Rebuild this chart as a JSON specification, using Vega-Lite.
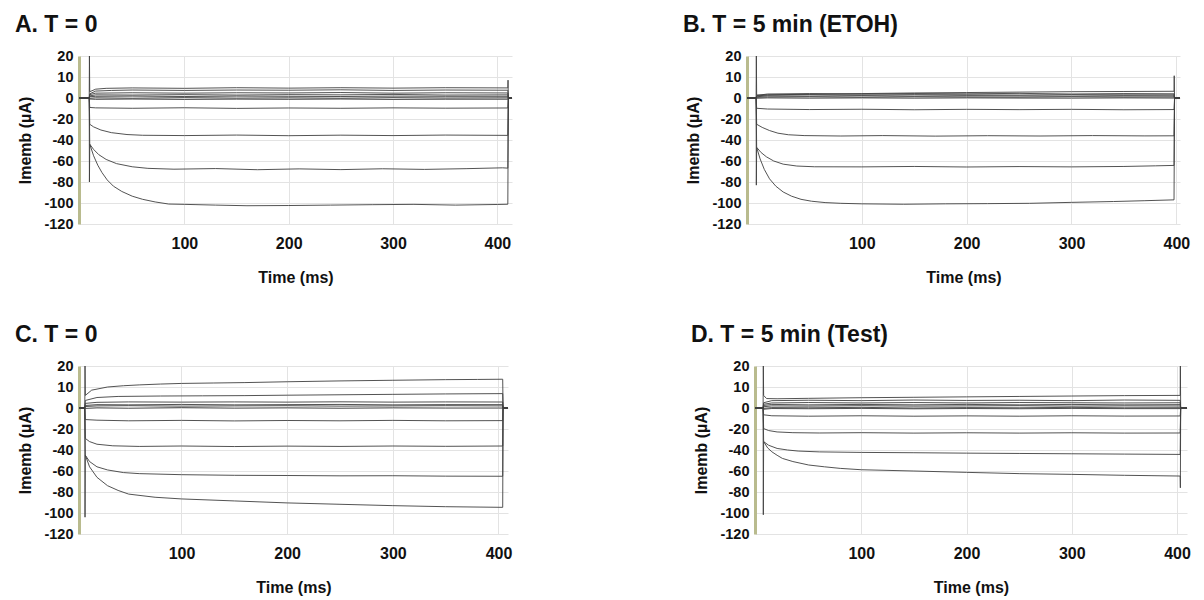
{
"$schema": "https://vega.github.io/schema/vega-lite/v6.json",
"background": "white",
"padding": {"left": 14, "top": 14, "right": 5, "bottom": 5},
"config": {
 "font": "Liberation Sans",
 "view": {"stroke": null},
 "axis": {"grid": true, "gridColor": "#e3e3e3", "gridWidth": 1, "ticks": false, "labelFont": "Liberation Sans", "titleFont": "Liberation Sans", "labelFontWeight": "bold", "titleFontWeight": "bold", "labelColor": "#111111", "titleColor": "#111111"},
 "axisX": {"domain": false, "labelFontSize": 16, "labelPadding": 11, "titleFontSize": 16, "titlePadding": 18, "labelFlush": false},
 "axisY": {"domainColor": "#b9bb8e", "domainWidth": 3, "labelFontSize": 14.5, "labelPadding": 6, "titleFontSize": 16, "titlePadding": 10},
 "title": {"fontSize": 23, "fontWeight": "bold", "anchor": "start", "frame": "bounds", "offset": 11, "color": "#111111", "dx": -3}
},
"datasets": {
"A": [
{"s":1,"t":-1,"v":0},{"s":1,"t":8.8,"v":0},{"s":1,"t":9,"v":20},{"s":1,"t":9.3,"v":3},{"s":1,"t":15,"v":4.2},{"s":1,"t":25,"v":4.6},{"s":1,"t":50,"v":4.8},{"s":1,"t":100,"v":4.6},{"s":1,"t":150,"v":4.9},{"s":1,"t":200,"v":4.7},{"s":1,"t":250,"v":4.9},{"s":1,"t":300,"v":4.7},{"s":1,"t":350,"v":4.9},{"s":1,"t":410,"v":4.8},{"s":1,"t":410.2,"v":8.5},{"s":1,"t":410.5,"v":0},{"s":1,"t":414,"v":0},
{"s":2,"t":-1,"v":0},{"s":2,"t":8.8,"v":0},{"s":2,"t":9.3,"v":2},{"s":2,"t":15,"v":3.3},{"s":2,"t":30,"v":3.6},{"s":2,"t":50,"v":3.8},{"s":2,"t":100,"v":3.6},{"s":2,"t":150,"v":3.8},{"s":2,"t":200,"v":3.7},{"s":2,"t":250,"v":3.9},{"s":2,"t":300,"v":3.6},{"s":2,"t":350,"v":3.8},{"s":2,"t":410,"v":3.7},{"s":2,"t":410.5,"v":0},{"s":2,"t":414,"v":0},
{"s":3,"t":-1,"v":0},{"s":3,"t":8.8,"v":0},{"s":3,"t":9.3,"v":1.6},{"s":3,"t":15,"v":2.3},{"s":3,"t":50,"v":2.5},{"s":3,"t":100,"v":2.3},{"s":3,"t":150,"v":2.5},{"s":3,"t":200,"v":2.4},{"s":3,"t":250,"v":2.6},{"s":3,"t":300,"v":2.3},{"s":3,"t":350,"v":2.5},{"s":3,"t":410,"v":2.4},{"s":3,"t":410.5,"v":0},{"s":3,"t":414,"v":0},
{"s":4,"t":-1,"v":0},{"s":4,"t":8.8,"v":0},{"s":4,"t":9.3,"v":1},{"s":4,"t":15,"v":1.5},{"s":4,"t":50,"v":1.4},{"s":4,"t":100,"v":1.6},{"s":4,"t":150,"v":1.4},{"s":4,"t":200,"v":1.6},{"s":4,"t":250,"v":1.5},{"s":4,"t":300,"v":1.7},{"s":4,"t":350,"v":1.4},{"s":4,"t":410,"v":1.5},{"s":4,"t":410.5,"v":0},{"s":4,"t":414,"v":0},
{"s":5,"t":-1,"v":0},{"s":5,"t":8.8,"v":0},{"s":5,"t":9.3,"v":0.6},{"s":5,"t":15,"v":0.8},{"s":5,"t":50,"v":0.9},{"s":5,"t":100,"v":0.7},{"s":5,"t":150,"v":0.9},{"s":5,"t":200,"v":0.8},{"s":5,"t":250,"v":0.7},{"s":5,"t":300,"v":0.9},{"s":5,"t":350,"v":0.8},{"s":5,"t":410,"v":0.8},{"s":5,"t":410.5,"v":0},{"s":5,"t":414,"v":0},
{"s":6,"t":-1,"v":0},{"s":6,"t":8.8,"v":0},{"s":6,"t":9.3,"v":-0.3},{"s":6,"t":15,"v":0.1},{"s":6,"t":50,"v":-0.2},{"s":6,"t":100,"v":0.2},{"s":6,"t":150,"v":-0.1},{"s":6,"t":200,"v":0.1},{"s":6,"t":250,"v":-0.2},{"s":6,"t":300,"v":0.2},{"s":6,"t":350,"v":0},{"s":6,"t":410,"v":0.1},{"s":6,"t":410.5,"v":0},{"s":6,"t":414,"v":0},
{"s":7,"t":-1,"v":0},{"s":7,"t":8.8,"v":0},{"s":7,"t":9.3,"v":-1},{"s":7,"t":15,"v":-1.3},{"s":7,"t":50,"v":-1},{"s":7,"t":100,"v":-1.4},{"s":7,"t":150,"v":-1.1},{"s":7,"t":200,"v":-1.3},{"s":7,"t":250,"v":-1},{"s":7,"t":300,"v":-1.4},{"s":7,"t":350,"v":-1.2},{"s":7,"t":410,"v":-1.2},{"s":7,"t":410.5,"v":0},{"s":7,"t":414,"v":0},
{"s":8,"t":-1,"v":0},{"s":8,"t":8.8,"v":0},{"s":8,"t":9.3,"v":-9},{"s":8,"t":15,"v":-9.4},{"s":8,"t":50,"v":-9.8},{"s":8,"t":100,"v":-9.3},{"s":8,"t":150,"v":-9.9},{"s":8,"t":200,"v":-9.5},{"s":8,"t":250,"v":-9.8},{"s":8,"t":300,"v":-9.4},{"s":8,"t":350,"v":-9.7},{"s":8,"t":410,"v":-9.5},{"s":8,"t":410.5,"v":0},{"s":8,"t":414,"v":0},
{"s":9,"t":-1,"v":0},{"s":9,"t":8.8,"v":0},{"s":9,"t":9.3,"v":-25},{"s":9,"t":13,"v":-27.5},{"s":9,"t":20,"v":-30.5},{"s":9,"t":30,"v":-33},{"s":9,"t":45,"v":-34.8},{"s":9,"t":60,"v":-35.5},{"s":9,"t":100,"v":-35.8},{"s":9,"t":150,"v":-35.3},{"s":9,"t":200,"v":-35.9},{"s":9,"t":250,"v":-35.4},{"s":9,"t":300,"v":-35.8},{"s":9,"t":350,"v":-35.3},{"s":9,"t":410,"v":-35.6},{"s":9,"t":410.5,"v":0},{"s":9,"t":414,"v":0},
{"s":10,"t":-1,"v":0},{"s":10,"t":8.8,"v":0},{"s":10,"t":9.3,"v":-44},{"s":10,"t":13,"v":-49},{"s":10,"t":18,"v":-54},{"s":10,"t":25,"v":-58.5},{"s":10,"t":35,"v":-62.5},{"s":10,"t":50,"v":-65.5},{"s":10,"t":65,"v":-67},{"s":10,"t":90,"v":-67.8},{"s":10,"t":130,"v":-67.2},{"s":10,"t":170,"v":-68.3},{"s":10,"t":210,"v":-67.5},{"s":10,"t":250,"v":-68.2},{"s":10,"t":290,"v":-67.4},{"s":10,"t":330,"v":-68},{"s":10,"t":370,"v":-67.3},{"s":10,"t":405,"v":-66.5},{"s":10,"t":410,"v":-66.8},{"s":10,"t":410.5,"v":0},{"s":10,"t":414,"v":0},
{"s":11,"t":-1,"v":0},{"s":11,"t":8.8,"v":0},{"s":11,"t":9,"v":-80},{"s":11,"t":9.3,"v":-44},{"s":11,"t":13,"v":-55},{"s":11,"t":17,"v":-64},{"s":11,"t":21,"v":-71},{"s":11,"t":26,"v":-78},{"s":11,"t":32,"v":-84},{"s":11,"t":40,"v":-89},{"s":11,"t":50,"v":-93.5},{"s":11,"t":60,"v":-96.5},{"s":11,"t":72,"v":-99},{"s":11,"t":85,"v":-101},{"s":11,"t":100,"v":-101.3},{"s":11,"t":130,"v":-102},{"s":11,"t":160,"v":-102.6},{"s":11,"t":200,"v":-102.4},{"s":11,"t":240,"v":-102},{"s":11,"t":280,"v":-101.6},{"s":11,"t":320,"v":-101.3},{"s":11,"t":360,"v":-102},{"s":11,"t":400,"v":-101.4},{"s":11,"t":410,"v":-101.2},{"s":11,"t":410.5,"v":0},{"s":11,"t":414,"v":0}
],
"B": [
{"s":1,"t":-9.5,"v":0},{"s":1,"t":-0.8,"v":0},{"s":1,"t":-0.6,"v":20},{"s":1,"t":-0.3,"v":1.4},{"s":1,"t":10,"v":1.5},{"s":1,"t":50,"v":1.8},{"s":1,"t":100,"v":2.1},{"s":1,"t":150,"v":2.4},{"s":1,"t":200,"v":2.6},{"s":1,"t":250,"v":2.8},{"s":1,"t":300,"v":3},{"s":1,"t":350,"v":3.1},{"s":1,"t":397.8,"v":3.2},{"s":1,"t":398,"v":10.6},{"s":1,"t":398.3,"v":0},{"s":1,"t":403.5,"v":0},
{"s":2,"t":-9.5,"v":0},{"s":2,"t":-0.8,"v":0},{"s":2,"t":-0.3,"v":1.2},{"s":2,"t":10,"v":1.9},{"s":2,"t":50,"v":2.1},{"s":2,"t":100,"v":1.9},{"s":2,"t":150,"v":2.1},{"s":2,"t":200,"v":2},{"s":2,"t":250,"v":2.2},{"s":2,"t":300,"v":1.9},{"s":2,"t":350,"v":2.1},{"s":2,"t":397.8,"v":2},{"s":2,"t":398.3,"v":0},{"s":2,"t":403.5,"v":0},
{"s":3,"t":-9.5,"v":0},{"s":3,"t":-0.8,"v":0},{"s":3,"t":-0.3,"v":1},{"s":3,"t":10,"v":1.4},{"s":3,"t":50,"v":1.6},{"s":3,"t":100,"v":1.4},{"s":3,"t":150,"v":1.6},{"s":3,"t":200,"v":1.5},{"s":3,"t":250,"v":1.4},{"s":3,"t":300,"v":1.6},{"s":3,"t":350,"v":1.5},{"s":3,"t":397.8,"v":1.5},{"s":3,"t":398.3,"v":0},{"s":3,"t":403.5,"v":0},
{"s":4,"t":-9.5,"v":0},{"s":4,"t":-0.8,"v":0},{"s":4,"t":-0.3,"v":0.6},{"s":4,"t":10,"v":1},{"s":4,"t":50,"v":0.9},{"s":4,"t":100,"v":1.1},{"s":4,"t":150,"v":0.9},{"s":4,"t":200,"v":1.1},{"s":4,"t":250,"v":1},{"s":4,"t":300,"v":0.9},{"s":4,"t":350,"v":1.1},{"s":4,"t":397.8,"v":1},{"s":4,"t":398.3,"v":0},{"s":4,"t":403.5,"v":0},
{"s":5,"t":-9.5,"v":0},{"s":5,"t":-0.8,"v":0},{"s":5,"t":-0.3,"v":0.3},{"s":5,"t":10,"v":0.5},{"s":5,"t":50,"v":0.6},{"s":5,"t":100,"v":0.4},{"s":5,"t":150,"v":0.6},{"s":5,"t":200,"v":0.5},{"s":5,"t":250,"v":0.4},{"s":5,"t":300,"v":0.6},{"s":5,"t":350,"v":0.5},{"s":5,"t":397.8,"v":0.5},{"s":5,"t":398.3,"v":0},{"s":5,"t":403.5,"v":0},
{"s":6,"t":-9.5,"v":0},{"s":6,"t":-0.8,"v":0},{"s":6,"t":-0.3,"v":-0.2},{"s":6,"t":10,"v":0.1},{"s":6,"t":50,"v":-0.1},{"s":6,"t":100,"v":0.1},{"s":6,"t":150,"v":-0.1},{"s":6,"t":200,"v":0.1},{"s":6,"t":250,"v":0},{"s":6,"t":300,"v":-0.1},{"s":6,"t":350,"v":0.1},{"s":6,"t":397.8,"v":0},{"s":6,"t":398.3,"v":0},{"s":6,"t":403.5,"v":0},
{"s":7,"t":-9.5,"v":0},{"s":7,"t":-0.8,"v":0},{"s":7,"t":-0.3,"v":-9.8},{"s":7,"t":10,"v":-10.5},{"s":7,"t":50,"v":-11},{"s":7,"t":100,"v":-10.7},{"s":7,"t":150,"v":-11.2},{"s":7,"t":200,"v":-10.8},{"s":7,"t":250,"v":-11.1},{"s":7,"t":300,"v":-10.8},{"s":7,"t":350,"v":-11.2},{"s":7,"t":397.8,"v":-11},{"s":7,"t":398.3,"v":0},{"s":7,"t":403.5,"v":0},
{"s":8,"t":-9.5,"v":0},{"s":8,"t":-0.8,"v":0},{"s":8,"t":-0.3,"v":-25},{"s":8,"t":5,"v":-28},{"s":8,"t":12,"v":-31},{"s":8,"t":20,"v":-33.5},{"s":8,"t":30,"v":-35},{"s":8,"t":45,"v":-35.8},{"s":8,"t":80,"v":-36.2},{"s":8,"t":120,"v":-35.8},{"s":8,"t":170,"v":-36.3},{"s":8,"t":220,"v":-35.9},{"s":8,"t":270,"v":-36.2},{"s":8,"t":320,"v":-35.8},{"s":8,"t":370,"v":-36.1},{"s":8,"t":397.8,"v":-36},{"s":8,"t":398.3,"v":0},{"s":8,"t":403.5,"v":0},
{"s":9,"t":-9.5,"v":0},{"s":9,"t":-0.8,"v":0},{"s":9,"t":-0.3,"v":-47},{"s":9,"t":4,"v":-52},{"s":9,"t":9,"v":-56},{"s":9,"t":16,"v":-60},{"s":9,"t":25,"v":-63},{"s":9,"t":38,"v":-64.8},{"s":9,"t":55,"v":-65.5},{"s":9,"t":100,"v":-65.6},{"s":9,"t":150,"v":-65.2},{"s":9,"t":200,"v":-65.7},{"s":9,"t":250,"v":-65.3},{"s":9,"t":300,"v":-65.6},{"s":9,"t":350,"v":-65.2},{"s":9,"t":380,"v":-64.6},{"s":9,"t":397.8,"v":-64.2},{"s":9,"t":398.3,"v":0},{"s":9,"t":403.5,"v":0},
{"s":10,"t":-9.5,"v":0},{"s":10,"t":-0.8,"v":0},{"s":10,"t":-0.6,"v":-83},{"s":10,"t":-0.3,"v":-47},{"s":10,"t":3,"v":-58},{"s":10,"t":7,"v":-68},{"s":10,"t":12,"v":-77},{"s":10,"t":18,"v":-84},{"s":10,"t":25,"v":-89.5},{"s":10,"t":33,"v":-93.5},{"s":10,"t":42,"v":-96.5},{"s":10,"t":52,"v":-98.3},{"s":10,"t":65,"v":-99.6},{"s":10,"t":80,"v":-100.3},{"s":10,"t":100,"v":-100.8},{"s":10,"t":140,"v":-101.2},{"s":10,"t":180,"v":-100.8},{"s":10,"t":220,"v":-100.6},{"s":10,"t":260,"v":-100.3},{"s":10,"t":300,"v":-99.4},{"s":10,"t":340,"v":-98.6},{"s":10,"t":370,"v":-97.8},{"s":10,"t":397.8,"v":-97},{"s":10,"t":398.3,"v":0},{"s":10,"t":403.5,"v":0}
],
"C": [
{"s":1,"t":3,"v":0},{"s":1,"t":8.5,"v":0},{"s":1,"t":8.7,"v":20},{"s":1,"t":9,"v":6},{"s":1,"t":15,"v":8.5},{"s":1,"t":30,"v":10},{"s":1,"t":45,"v":10.6},{"s":1,"t":60,"v":11},{"s":1,"t":80,"v":11.4},{"s":1,"t":100,"v":11.7},{"s":1,"t":130,"v":11.9},{"s":1,"t":160,"v":12.1},{"s":1,"t":200,"v":12.5},{"s":1,"t":250,"v":12.9},{"s":1,"t":300,"v":13.2},{"s":1,"t":350,"v":13.5},{"s":1,"t":380,"v":13.6},{"s":1,"t":404,"v":13.7},{"s":1,"t":404.3,"v":0},{"s":1,"t":409,"v":0},
{"s":2,"t":3,"v":0},{"s":2,"t":8.5,"v":0},{"s":2,"t":9,"v":3.6},{"s":2,"t":20,"v":5},{"s":2,"t":40,"v":5.5},{"s":2,"t":80,"v":5.7},{"s":2,"t":120,"v":5.8},{"s":2,"t":160,"v":5.9},{"s":2,"t":200,"v":6.1},{"s":2,"t":250,"v":6.3},{"s":2,"t":300,"v":6.5},{"s":2,"t":350,"v":6.7},{"s":2,"t":404,"v":6.85},{"s":2,"t":404.3,"v":0},{"s":2,"t":409,"v":0},
{"s":3,"t":3,"v":0},{"s":3,"t":8.5,"v":0},{"s":3,"t":9,"v":2.2},{"s":3,"t":20,"v":2.7},{"s":3,"t":50,"v":2.9},{"s":3,"t":100,"v":2.8},{"s":3,"t":150,"v":2.9},{"s":3,"t":200,"v":2.8},{"s":3,"t":250,"v":2.95},{"s":3,"t":300,"v":2.8},{"s":3,"t":350,"v":2.9},{"s":3,"t":404,"v":2.85},{"s":3,"t":404.3,"v":0},{"s":3,"t":409,"v":0},
{"s":4,"t":3,"v":0},{"s":4,"t":8.5,"v":0},{"s":4,"t":9,"v":1.2},{"s":4,"t":20,"v":1.6},{"s":4,"t":50,"v":1.5},{"s":4,"t":100,"v":1.7},{"s":4,"t":150,"v":1.5},{"s":4,"t":200,"v":1.6},{"s":4,"t":250,"v":1.7},{"s":4,"t":300,"v":1.5},{"s":4,"t":350,"v":1.6},{"s":4,"t":404,"v":1.6},{"s":4,"t":404.3,"v":0},{"s":4,"t":409,"v":0},
{"s":5,"t":3,"v":0},{"s":5,"t":8.5,"v":0},{"s":5,"t":9,"v":0.7},{"s":5,"t":20,"v":1},{"s":5,"t":50,"v":1.1},{"s":5,"t":100,"v":0.9},{"s":5,"t":150,"v":1},{"s":5,"t":200,"v":1.1},{"s":5,"t":250,"v":0.9},{"s":5,"t":300,"v":1},{"s":5,"t":350,"v":1.1},{"s":5,"t":404,"v":1},{"s":5,"t":404.3,"v":0},{"s":5,"t":409,"v":0},
{"s":6,"t":3,"v":0},{"s":6,"t":8.5,"v":0},{"s":6,"t":9,"v":-0.4},{"s":6,"t":20,"v":0.1},{"s":6,"t":50,"v":-0.2},{"s":6,"t":100,"v":0.2},{"s":6,"t":150,"v":-0.1},{"s":6,"t":200,"v":0.1},{"s":6,"t":250,"v":-0.2},{"s":6,"t":300,"v":0.1},{"s":6,"t":350,"v":0},{"s":6,"t":404,"v":0},{"s":6,"t":404.3,"v":0},{"s":6,"t":409,"v":0},
{"s":7,"t":3,"v":0},{"s":7,"t":8.5,"v":0},{"s":7,"t":9,"v":-11},{"s":7,"t":20,"v":-11.6},{"s":7,"t":50,"v":-12.2},{"s":7,"t":100,"v":-11.8},{"s":7,"t":150,"v":-12.3},{"s":7,"t":200,"v":-11.9},{"s":7,"t":250,"v":-12.2},{"s":7,"t":300,"v":-11.8},{"s":7,"t":350,"v":-12.2},{"s":7,"t":404,"v":-12},{"s":7,"t":404.3,"v":0},{"s":7,"t":409,"v":0},
{"s":8,"t":3,"v":0},{"s":8,"t":8.5,"v":0},{"s":8,"t":9,"v":-29},{"s":8,"t":13,"v":-32},{"s":8,"t":20,"v":-34.5},{"s":8,"t":35,"v":-36},{"s":8,"t":60,"v":-36.6},{"s":8,"t":100,"v":-36.2},{"s":8,"t":150,"v":-36.7},{"s":8,"t":200,"v":-36.3},{"s":8,"t":250,"v":-36.6},{"s":8,"t":300,"v":-36.2},{"s":8,"t":350,"v":-36.5},{"s":8,"t":404,"v":-36.2},{"s":8,"t":404.3,"v":0},{"s":8,"t":409,"v":0},
{"s":9,"t":3,"v":0},{"s":9,"t":8.5,"v":0},{"s":9,"t":9,"v":-45},{"s":9,"t":13,"v":-51},{"s":9,"t":20,"v":-56},{"s":9,"t":30,"v":-59},{"s":9,"t":45,"v":-61.5},{"s":9,"t":60,"v":-62.5},{"s":9,"t":100,"v":-63.5},{"s":9,"t":150,"v":-64.1},{"s":9,"t":200,"v":-64.3},{"s":9,"t":250,"v":-64.6},{"s":9,"t":300,"v":-64.5},{"s":9,"t":350,"v":-64.9},{"s":9,"t":404,"v":-65},{"s":9,"t":404.3,"v":0},{"s":9,"t":409,"v":0},
{"s":10,"t":3,"v":0},{"s":10,"t":8.5,"v":0},{"s":10,"t":8.7,"v":-104},{"s":10,"t":9,"v":-45},{"s":10,"t":13,"v":-56},{"s":10,"t":20,"v":-66},{"s":10,"t":30,"v":-74},{"s":10,"t":40,"v":-78.5},{"s":10,"t":50,"v":-82},{"s":10,"t":75,"v":-85},{"s":10,"t":100,"v":-86.6},{"s":10,"t":150,"v":-88.5},{"s":10,"t":200,"v":-90.4},{"s":10,"t":250,"v":-91.7},{"s":10,"t":300,"v":-93},{"s":10,"t":350,"v":-94},{"s":10,"t":404,"v":-94.6},{"s":10,"t":404.3,"v":0},{"s":10,"t":409,"v":0}
],
"D": [
{"s":1,"t":-1,"v":0},{"s":1,"t":6.7,"v":0},{"s":1,"t":6.9,"v":20},{"s":1,"t":7.2,"v":6},{"s":1,"t":10,"v":4.5},{"s":1,"t":20,"v":4.4},{"s":1,"t":50,"v":4.6},{"s":1,"t":100,"v":4.9},{"s":1,"t":150,"v":5.1},{"s":1,"t":200,"v":5.3},{"s":1,"t":250,"v":5.5},{"s":1,"t":300,"v":5.7},{"s":1,"t":350,"v":5.9},{"s":1,"t":403,"v":6},{"s":1,"t":403.2,"v":20},{"s":1,"t":403.5,"v":0},{"s":1,"t":409.5,"v":0},
{"s":2,"t":-1,"v":0},{"s":2,"t":6.7,"v":0},{"s":2,"t":7.2,"v":2.5},{"s":2,"t":15,"v":3.5},{"s":2,"t":50,"v":3.7},{"s":2,"t":100,"v":3.5},{"s":2,"t":150,"v":3.8},{"s":2,"t":200,"v":3.6},{"s":2,"t":250,"v":3.7},{"s":2,"t":300,"v":3.5},{"s":2,"t":350,"v":3.8},{"s":2,"t":403,"v":3.65},{"s":2,"t":403.5,"v":0},{"s":2,"t":409.5,"v":0},
{"s":3,"t":-1,"v":0},{"s":3,"t":6.7,"v":0},{"s":3,"t":7.2,"v":1.8},{"s":3,"t":15,"v":2.4},{"s":3,"t":50,"v":2.6},{"s":3,"t":100,"v":2.4},{"s":3,"t":150,"v":2.6},{"s":3,"t":200,"v":2.4},{"s":3,"t":250,"v":2.6},{"s":3,"t":300,"v":2.5},{"s":3,"t":350,"v":2.4},{"s":3,"t":403,"v":2.5},{"s":3,"t":403.5,"v":0},{"s":3,"t":409.5,"v":0},
{"s":4,"t":-1,"v":0},{"s":4,"t":6.7,"v":0},{"s":4,"t":7.2,"v":1.2},{"s":4,"t":15,"v":1.7},{"s":4,"t":50,"v":1.5},{"s":4,"t":100,"v":1.7},{"s":4,"t":150,"v":1.5},{"s":4,"t":200,"v":1.7},{"s":4,"t":250,"v":1.5},{"s":4,"t":300,"v":1.7},{"s":4,"t":350,"v":1.5},{"s":4,"t":403,"v":1.6},{"s":4,"t":403.5,"v":0},{"s":4,"t":409.5,"v":0},
{"s":5,"t":-1,"v":0},{"s":5,"t":6.7,"v":0},{"s":5,"t":7.2,"v":0.6},{"s":5,"t":15,"v":1},{"s":5,"t":50,"v":0.9},{"s":5,"t":100,"v":1.1},{"s":5,"t":150,"v":0.9},{"s":5,"t":200,"v":1},{"s":5,"t":250,"v":1.1},{"s":5,"t":300,"v":0.9},{"s":5,"t":350,"v":1},{"s":5,"t":403,"v":0.95},{"s":5,"t":403.5,"v":0},{"s":5,"t":409.5,"v":0},
{"s":6,"t":-1,"v":0},{"s":6,"t":6.7,"v":0},{"s":6,"t":7.2,"v":-0.3},{"s":6,"t":15,"v":0.2},{"s":6,"t":50,"v":0.1},{"s":6,"t":100,"v":0.3},{"s":6,"t":150,"v":0},{"s":6,"t":200,"v":0.2},{"s":6,"t":250,"v":0.1},{"s":6,"t":300,"v":0.3},{"s":6,"t":350,"v":0.1},{"s":6,"t":403,"v":0.15},{"s":6,"t":403.5,"v":0},{"s":6,"t":409.5,"v":0},
{"s":7,"t":-1,"v":0},{"s":7,"t":6.7,"v":0},{"s":7,"t":7.2,"v":-1.2},{"s":7,"t":15,"v":-0.5},{"s":7,"t":50,"v":-0.7},{"s":7,"t":100,"v":-0.4},{"s":7,"t":150,"v":-0.8},{"s":7,"t":200,"v":-0.5},{"s":7,"t":250,"v":-0.7},{"s":7,"t":300,"v":-0.4},{"s":7,"t":350,"v":-0.6},{"s":7,"t":403,"v":-0.6},{"s":7,"t":403.5,"v":0},{"s":7,"t":409.5,"v":0},
{"s":8,"t":-1,"v":0},{"s":8,"t":6.7,"v":0},{"s":8,"t":7.2,"v":-6.5},{"s":8,"t":15,"v":-7.4},{"s":8,"t":50,"v":-7.8},{"s":8,"t":100,"v":-7.4},{"s":8,"t":150,"v":-7.8},{"s":8,"t":200,"v":-7.5},{"s":8,"t":250,"v":-7.8},{"s":8,"t":300,"v":-7.4},{"s":8,"t":350,"v":-7.7},{"s":8,"t":403,"v":-7.6},{"s":8,"t":403.5,"v":0},{"s":8,"t":409.5,"v":0},
{"s":9,"t":-1,"v":0},{"s":9,"t":6.7,"v":0},{"s":9,"t":7.2,"v":-19.6},{"s":9,"t":12,"v":-21.5},{"s":9,"t":20,"v":-22.8},{"s":9,"t":35,"v":-23.5},{"s":9,"t":60,"v":-23.8},{"s":9,"t":100,"v":-23.5},{"s":9,"t":150,"v":-23.9},{"s":9,"t":200,"v":-23.6},{"s":9,"t":250,"v":-23.9},{"s":9,"t":300,"v":-23.6},{"s":9,"t":350,"v":-23.9},{"s":9,"t":403,"v":-23.8},{"s":9,"t":403.5,"v":0},{"s":9,"t":409.5,"v":0},
{"s":10,"t":-1,"v":0},{"s":10,"t":6.7,"v":0},{"s":10,"t":7.2,"v":-32},{"s":10,"t":12,"v":-35.5},{"s":10,"t":20,"v":-38.5},{"s":10,"t":30,"v":-40},{"s":10,"t":40,"v":-41},{"s":10,"t":60,"v":-41.8},{"s":10,"t":100,"v":-42.3},{"s":10,"t":150,"v":-42.6},{"s":10,"t":200,"v":-43},{"s":10,"t":250,"v":-43.3},{"s":10,"t":300,"v":-43.6},{"s":10,"t":350,"v":-43.9},{"s":10,"t":403,"v":-44.2},{"s":10,"t":403.5,"v":0},{"s":10,"t":409.5,"v":0},
{"s":11,"t":-1,"v":0},{"s":11,"t":6.7,"v":0},{"s":11,"t":6.9,"v":-101.7},{"s":11,"t":7.2,"v":-32},{"s":11,"t":11,"v":-38},{"s":11,"t":15,"v":-41.7},{"s":11,"t":20,"v":-45},{"s":11,"t":25,"v":-48},{"s":11,"t":35,"v":-51},{"s":11,"t":50,"v":-54.3},{"s":11,"t":65,"v":-56},{"s":11,"t":80,"v":-57.5},{"s":11,"t":100,"v":-58.8},{"s":11,"t":150,"v":-60},{"s":11,"t":200,"v":-61.3},{"s":11,"t":250,"v":-62.5},{"s":11,"t":300,"v":-63.2},{"s":11,"t":350,"v":-64.1},{"s":11,"t":403,"v":-64.8},{"s":11,"t":403.2,"v":-76},{"s":11,"t":403.5,"v":0},{"s":11,"t":409.5,"v":0}
]
},
"spacing": 39,
"vconcat": [
{"spacing": 170, "hconcat": [
 {"title": {"text": "A. T = 0"}, "width": 433, "height": 168, "data": {"name": "A"},
  "mark": {"type": "line", "color": "#404040", "strokeWidth": 0.9, "clip": true},
  "encoding": {
   "x": {"field": "t", "type": "quantitative", "scale": {"domain": [-1, 414], "nice": false, "zero": false}, "axis": {"values": [100, 200, 300, 400], "title": "Time (ms)"}},
   "y": {"field": "v", "type": "quantitative", "scale": {"domain": [-120, 0, 20], "range": [168, 42, 0], "nice": false, "zero": false}, "axis": {"values": [20, 10, 0, -20, -40, -60, -80, -100, -120], "labelExpr": "'' + datum.value", "title": "Imemb (µA)"}},
   "detail": {"field": "s", "type": "nominal"}}},
 {"title": {"text": "B. T = 5 min (ETOH)"}, "width": 433, "height": 168, "data": {"name": "B"},
  "mark": {"type": "line", "color": "#404040", "strokeWidth": 0.9, "clip": true},
  "encoding": {
   "x": {"field": "t", "type": "quantitative", "scale": {"domain": [-9.5, 403.5], "nice": false, "zero": false}, "axis": {"values": [100, 200, 300, 400], "title": "Time (ms)"}},
   "y": {"field": "v", "type": "quantitative", "scale": {"domain": [-120, 0, 20], "range": [168, 42, 0], "nice": false, "zero": false}, "axis": {"values": [20, 10, 0, -20, -40, -60, -80, -100, -120], "labelExpr": "'' + datum.value", "title": "Imemb (µA)"}},
   "detail": {"field": "s", "type": "nominal"}}}
]},
{"spacing": 178, "hconcat": [
 {"title": {"text": "C. T = 0"}, "width": 429, "height": 168, "data": {"name": "C"},
  "mark": {"type": "line", "color": "#404040", "strokeWidth": 0.9, "clip": true},
  "encoding": {
   "x": {"field": "t", "type": "quantitative", "scale": {"domain": [3, 409], "nice": false, "zero": false}, "axis": {"values": [100, 200, 300, 400], "title": "Time (ms)"}},
   "y": {"field": "v", "type": "quantitative", "scale": {"domain": [-120, 0, 20], "range": [168, 42, 0], "nice": false, "zero": false}, "axis": {"values": [20, 10, 0, -20, -40, -60, -80, -100, -120], "labelExpr": "'' + datum.value", "title": "Imemb (µA)"}},
   "detail": {"field": "s", "type": "nominal"}}},
 {"title": {"text": "D. T = 5 min (Test)"}, "width": 432, "height": 168, "data": {"name": "D"},
  "mark": {"type": "line", "color": "#404040", "strokeWidth": 0.9, "clip": true},
  "encoding": {
   "x": {"field": "t", "type": "quantitative", "scale": {"domain": [-1, 409.5], "nice": false, "zero": false}, "axis": {"values": [100, 200, 300, 400], "title": "Time (ms)"}},
   "y": {"field": "v", "type": "quantitative", "scale": {"domain": [-120, 0, 20], "range": [168, 42, 0], "nice": false, "zero": false}, "axis": {"values": [20, 10, 0, -20, -40, -60, -80, -100, -120], "labelExpr": "'' + datum.value", "title": "Imemb (µA)"}},
   "detail": {"field": "s", "type": "nominal"}}}
]}
]
}
